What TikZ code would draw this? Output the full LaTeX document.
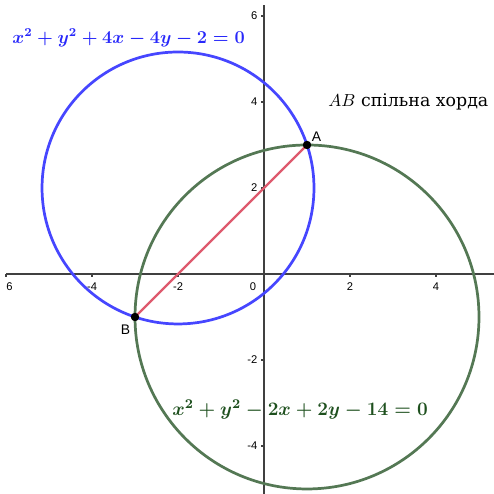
\documentclass[tikz,border=0pt]{standalone}
\usepackage{fix-cm}
\usepackage{fontspec}
\newfontfamily\cyrfont{DejaVu Serif}
\newfontfamily\labfont{Liberation Sans}
\usepackage{tikz}
\usetikzlibrary{positioning}
\definecolor{circblue}{RGB}{70,70,255}
\definecolor{textblue}{RGB}{40,40,250}
\definecolor{circgreen}{RGB}{84,120,84}
\definecolor{textgreen}{RGB}{30,80,30}
\definecolor{chordred}{RGB}{222,90,110}
\tikzstyle{axis} = [line width=0.9pt, draw=black!75]
\tikzstyle{ticklabel} = [inner sep=0pt, font=\labfont\fontsize{7.4}{8}\selectfont]
\tikzstyle{bluecircle} = [line width=1.8pt, draw=circblue]
\tikzstyle{greencircle} = [line width=1.8pt, draw=circgreen]
\tikzstyle{chord} = [line width=1.6pt, draw=chordred]
\tikzstyle{dot} = [circle, fill=black, inner sep=0pt, minimum size=1.9mm]
\tikzstyle{ptlabel} = [inner sep=1pt, font=\labfont\fontsize{9.2}{10}\selectfont]
\tikzstyle{eqlabel} = [inner sep=0pt, anchor=west, font=\fontsize{12}{14}\selectfont\boldmath]

\begin{document}
\begin{tikzpicture}[x=1cm, y=1cm]
                \useasboundingbox (-6.14,-5.116) rectangle (5.349,6.372);
                % axes
                \coordinate (xleft) at (-6.0,0);
                \coordinate (xright) at (5.349,0);
                \coordinate (ybottom) at (0,-5.116);
                \coordinate (ytop) at (0,6.26);
                \draw [axis] (xleft) -- (xright);
                \draw [axis] (ybottom) -- (ytop);
                \foreach \k in {-6,-4,-2,2,4} {
                    \draw [axis] (\k,0) -- ++(0,-0.07);
                }
                \foreach \k in {-4,-2,2,4,6} {
                    \draw [axis] (0,\k) -- ++(-0.07,0);
                    \node [ticklabel, anchor=east] at (-0.15,\k) {\k};
                }
                \foreach \k in {-4,-2,2,4} {
                    \node [ticklabel] at (\k,-0.30) {\k};
                }
                \node (xsix) [ticklabel] at (-5.92,-0.30) {6};
                \node (zero) [ticklabel] at (-0.256,-0.30) {0};

                % circles and chord
                \coordinate (cblue) at (-2,2);
                \coordinate (cgreen) at (1,-1);
                \draw [bluecircle] (cblue) circle (3.1623);
                \draw [greencircle] (cgreen) circle (4);
                \node (A) [dot] at (1,3) {};
                \node (B) [dot] at (-3,-1) {};
                \draw [chord] (A.center) -- (B.center);
                \node (A) [dot] at (1,3) {};
                \node (B) [dot] at (-3,-1) {};
                \node (labA) [ptlabel, above right=-1pt and 0pt of A] {A};
                \node (labB) [ptlabel, below left=2pt and 0pt of B] {B};

                % texts
                \node (eqblue) [eqlabel, text=textblue] at (-5.86,5.488) {$x^2+y^2+4x-4y-2=0$};
                \node (eqgreen) [eqlabel, text=textgreen, font=\fontsize{12.6}{15}\selectfont\boldmath] at (-2.14,-3.163) {$x^2+y^2-2x+2y-14=0$};
                \node (chordtext) [eqlabel, font=\fontsize{11.5}{13}\selectfont] at (1.488,4.0) {$AB$ \cyrfont спільна хорда};
            \end{tikzpicture}
\end{document}
